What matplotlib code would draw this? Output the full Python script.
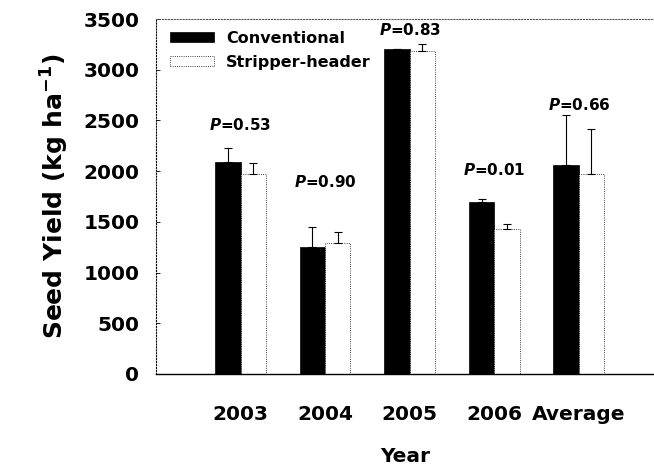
import numpy as np
import matplotlib
matplotlib.use('Agg')
import matplotlib.pyplot as plt

plt.rcParams['font.family'] = ['DejaVu Sans']
plt.rcParams['font.weight'] = 'bold'
plt.rcParams['mathtext.default'] = 'bf'

# данные
years = ['2003', '2004', '2005', '2006', 'Average']
conv = [2090, 1252, 3200, 1696, 2061]
conv_err = [139, 201, 0, 29, 493]
strip = [1972, 1292, 3185, 1430, 1972]
strip_err = [112, 108, 65, 50, 447]
p_text = ['0.53', '0.90', '0.83', '0.01', '0.66']
p_y = [2455, 1893, 3392, 2012, 2653]

x = np.arange(1, len(years) + 1)
w = 0.3

fig = plt.figure(figsize=(6.54, 4.68), dpi=100)
ax = fig.add_axes([0.2385, 0.2009, 0.7615, 0.7585])

ax.bar(x - w / 2, conv, w, color='black', edgecolor='black', linewidth=0.5,
       label='Conventional')
ax.bar(x + w / 2, strip, w, color='white', edgecolor='black', linewidth=0.6,
       linestyle=':', label='Stripper-header')

ax.errorbar(x - w / 2, conv, yerr=[np.zeros(len(conv)), conv_err], fmt='none',
            ecolor='black', elinewidth=0.8, capsize=3, capthick=0.8)
ax.errorbar(x + w / 2, strip, yerr=[np.zeros(len(strip)), strip_err], fmt='none',
            ecolor='black', elinewidth=0.8, capsize=3, capthick=0.8)

for xi, t, yi in zip(x, p_text, p_y):
    ax.text(xi, yi, '$\\mathbfit{P}$=' + t, ha='center', va='center',
            fontsize=11, fontweight='bold')

ax.set_xlim(0, 5.89)
ax.set_ylim(0, 3500)
ax.set_yticks(np.arange(0, 3501, 500))
ax.set_xticks(x)
ax.set_xticklabels(years)
ax.tick_params(axis='y', direction='in', length=3, width=0.6, pad=12, labelsize=14.5)
ax.tick_params(axis='x', length=0, pad=22, labelsize=14.5)

ax.spines['right'].set_visible(False)
ax.spines['top'].set_linestyle(':')
ax.spines['top'].set_linewidth(0.8)
ax.spines['top'].set_color('#555555')
ax.spines['left'].set_linestyle(':')
ax.spines['left'].set_linewidth(0.8)
ax.spines['bottom'].set_linewidth(1.0)

ax.set_ylabel('Seed Yield (kg ha$^{-1}$)', fontsize=18, fontweight='bold', labelpad=9)
ax.set_xlabel('Year', fontsize=14.5, fontweight='bold', labelpad=17)

ax.legend(loc='upper left', frameon=False, fontsize=11.5, handlelength=2.75,
          handleheight=0.6, handletextpad=0.8, labelspacing=0.55,
          borderaxespad=0.3, bbox_to_anchor=(0.005, 0.998))

fig.savefig('out.png', dpi=100)
